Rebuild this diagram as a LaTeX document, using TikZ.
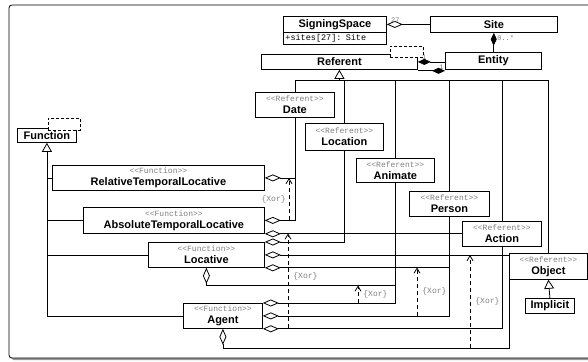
\documentclass[tikz,border=0pt]{standalone}
\usepackage{fontspec}
\setmainfont{Liberation Sans}
\setmonofont{Liberation Mono}
\usetikzlibrary{arrows.meta}

\newcommand{\stereo}[1]{{\ttfamily\mdseries\fontsize{8}{8}\selectfont\color{black!50}<{}<#1>{}>}}

\begin{document}
\begin{tikzpicture}[
        x=1pt, y=-1pt, line width=0.8pt,
        every node/.style={inner sep=0pt},
        classbox/.style={draw, fill=white, anchor=north west, align=center,
            font=\fontsize{11}{12}\selectfont\bfseries},
        tmplbox/.style={draw, fill=white, anchor=north west, dash pattern=on 3pt off 2pt},
        agg/.style={{Diamond[open, length=16pt, width=7pt]}-},
        comp/.style={{Diamond[length=13pt, width=6pt]}-},
        gen/.style={-{Triangle[open, length=9pt, width=10pt]}},
        xor/.style={dash pattern=on 4pt off 3pt, -{Straight Barb[length=5pt, width=6pt]}},
        xorlabel/.style={font=\ttfamily\fontsize{8}{8}\selectfont, text=black!50},
        mult/.style={font=\ttfamily\fontsize{7}{7}\selectfont, text=black!50}
    ]
    \useasboundingbox (0,0) rectangle (588,361);

    %% ---- frame (runs past the right edge) ----
    \fill[black!40, rounded corners=3pt] (11,7) rectangle (602,360);
    \draw[fill=white, rounded corners=3pt] (9,5) rectangle (600,358);

    %% ---- top classes ----
    \node[classbox, minimum width=103pt, minimum height=16pt] (ss) at (283,16) {SigningSpace};
    \node[classbox, minimum width=103pt, minimum height=12pt, text width=99pt, align=left,
          font=\ttfamily\mdseries\fontsize{8.5}{9}\selectfont] (ssattr) at (283,32) {+sites[27]: Site};
    \node[classbox, minimum width=127pt, minimum height=16pt] (site) at (430,16) {Site};
    \node[classbox, minimum width=96pt, minimum height=17pt] (entity) at (445,52) {Entity};
    \node[classbox, minimum width=156pt, minimum height=15pt] (ref) at (261,54) {Referent};
    \node[tmplbox, minimum width=33pt, minimum height=11pt] (reftmpl) at (390,46) {};

    \node[classbox, minimum width=59pt, minimum height=14pt] (func) at (17,128) {Function};
    \node[tmplbox, minimum width=32pt, minimum height=12pt] (functmpl) at (48,118) {};

    %% ---- referents ----
    \node[classbox, minimum width=79pt, minimum height=25pt] (date) at (255,92) {\stereo{Referent}\\Date};
    \node[classbox, minimum width=78pt, minimum height=27pt] (location) at (305,123) {\stereo{Referent}\\Location};
    \node[classbox, minimum width=78pt, minimum height=24pt] (animate) at (356,158) {\stereo{Referent}\\Animate};
    \node[classbox, minimum width=80pt, minimum height=25pt] (person) at (409,191) {\stereo{Referent}\\Person};
    \node[classbox, minimum width=79pt, minimum height=25pt] (action) at (462,221) {\stereo{Referent}\\Action};
    \node[classbox, minimum width=78pt, minimum height=26pt] (object) at (509,253) {\stereo{Referent}\\Object};
    \node[classbox, minimum width=49pt, minimum height=15pt] (implicit) at (525,298) {Implicit};

    %% ---- functions ----
    \node[classbox, minimum width=212pt, minimum height=25pt] (rtl) at (52,165) {\stereo{Function}\\RelativeTemporalLocative};
    \node[classbox, minimum width=181pt, minimum height=26pt] (atl) at (83,207) {\stereo{Function}\\AbsoluteTemporalLocative};
    \node[classbox, minimum width=116pt, minimum height=25pt] (loc) at (148,242) {\stereo{Function}\\Locative};
    \node[classbox, minimum width=79pt, minimum height=25pt] (agent) at (183,303) {\stereo{Function}\\Agent};

    %% ---- associations at the top ----
    \draw[agg] (ss.east) -- (site.west) node[mult, pos=0, above right, xshift=4pt, yshift=1pt] {27};
    \draw[comp] (site.south) -- (entity.north) node[mult, pos=0, below right, xshift=3pt, yshift=-2pt] {0..*};
    \draw[comp] (ref.east) -- (ref.east -| entity.west) node[mult, pos=0, above right, xshift=4pt, yshift=2pt] {1};
    \draw[-{Diamond[length=13pt, width=6pt]}] ([yshift=-1pt]ref.south east) -- ([yshift=-1pt]ref.south east -| entity.west)
        node[mult, pos=1, above left, xshift=-1pt, yshift=1pt] {1};

    %% ---- generalisations ----
    \coordinate (refjoin) at ([yshift=-11pt]ref.south);
    \foreach \sub in {date, location, animate, person, action, object}
        \draw (\sub.north) |- (refjoin);
    \draw[gen] (refjoin) -- (ref.south);

    \coordinate (funcjoin) at ([yshift=-10pt]func.south);
    \foreach \sub in {rtl, atl, loc, agent}
        \draw (\sub.west) -| (funcjoin);
    \draw[gen] (funcjoin) -- (func.south);

    \draw[gen] (implicit.north) -- (object.south);

    %% ---- aggregations ----
    \draw[agg] (rtl.east) -| (date.south);
    \draw[agg] (atl.east) -| (date.south);
    \draw[agg] (atl.south east) -- (atl.south east -| action.west);
    \draw[agg] (loc.north east) -| (location.south);
    \draw[agg] (loc.east) -- (loc.east -| object.west);
    \draw[agg] (loc.south east) -| (person.south);
    \draw[agg] (loc.south) -- ++(0,18) -| (animate.south);
    \draw[agg] (agent.north east) -| (animate.south);
    \draw[agg] (agent.east) -| (person.south);
    \draw[agg] (agent.south east) -| (action.south);
    \draw[agg] (agent.south) -- ++(0,20) -| (object.south west);

    %% ---- xor constraints ----
    \coordinate (xor1a) at (289,220);
    \coordinate (xor1b) at (289,178);
    \coordinate (xor2a) at (288,328);
    \coordinate (xor2b) at (288,233.5);
    \coordinate (xor3a) at (358,303);
    \coordinate (xor3b) at (358,285.5);
    \coordinate (xor4a) at (417,316);
    \coordinate (xor4b) at (417,267.5);
    \coordinate (xor5a) at (470,348);
    \coordinate (xor5b) at (470,255);
    \draw[xor] (xor1a) -- (xor1b) node[xorlabel, midway, left, xshift=-3pt] {\{Xor\}};
    \draw[xor] (xor2a) -- (xor2b) node[xorlabel, pos=0.55, right, xshift=5pt] {\{Xor\}};
    \draw[xor] (xor3a) -- (xor3b) node[xorlabel, midway, right, xshift=5pt] {\{Xor\}};
    \draw[xor] (xor4a) -- (xor4b) node[xorlabel, midway, right, xshift=5pt] {\{Xor\}};
    \draw[xor] (xor5a) -- (xor5b) node[xorlabel, midway, right, xshift=5pt] {\{Xor\}};

\end{tikzpicture}
\end{document}
